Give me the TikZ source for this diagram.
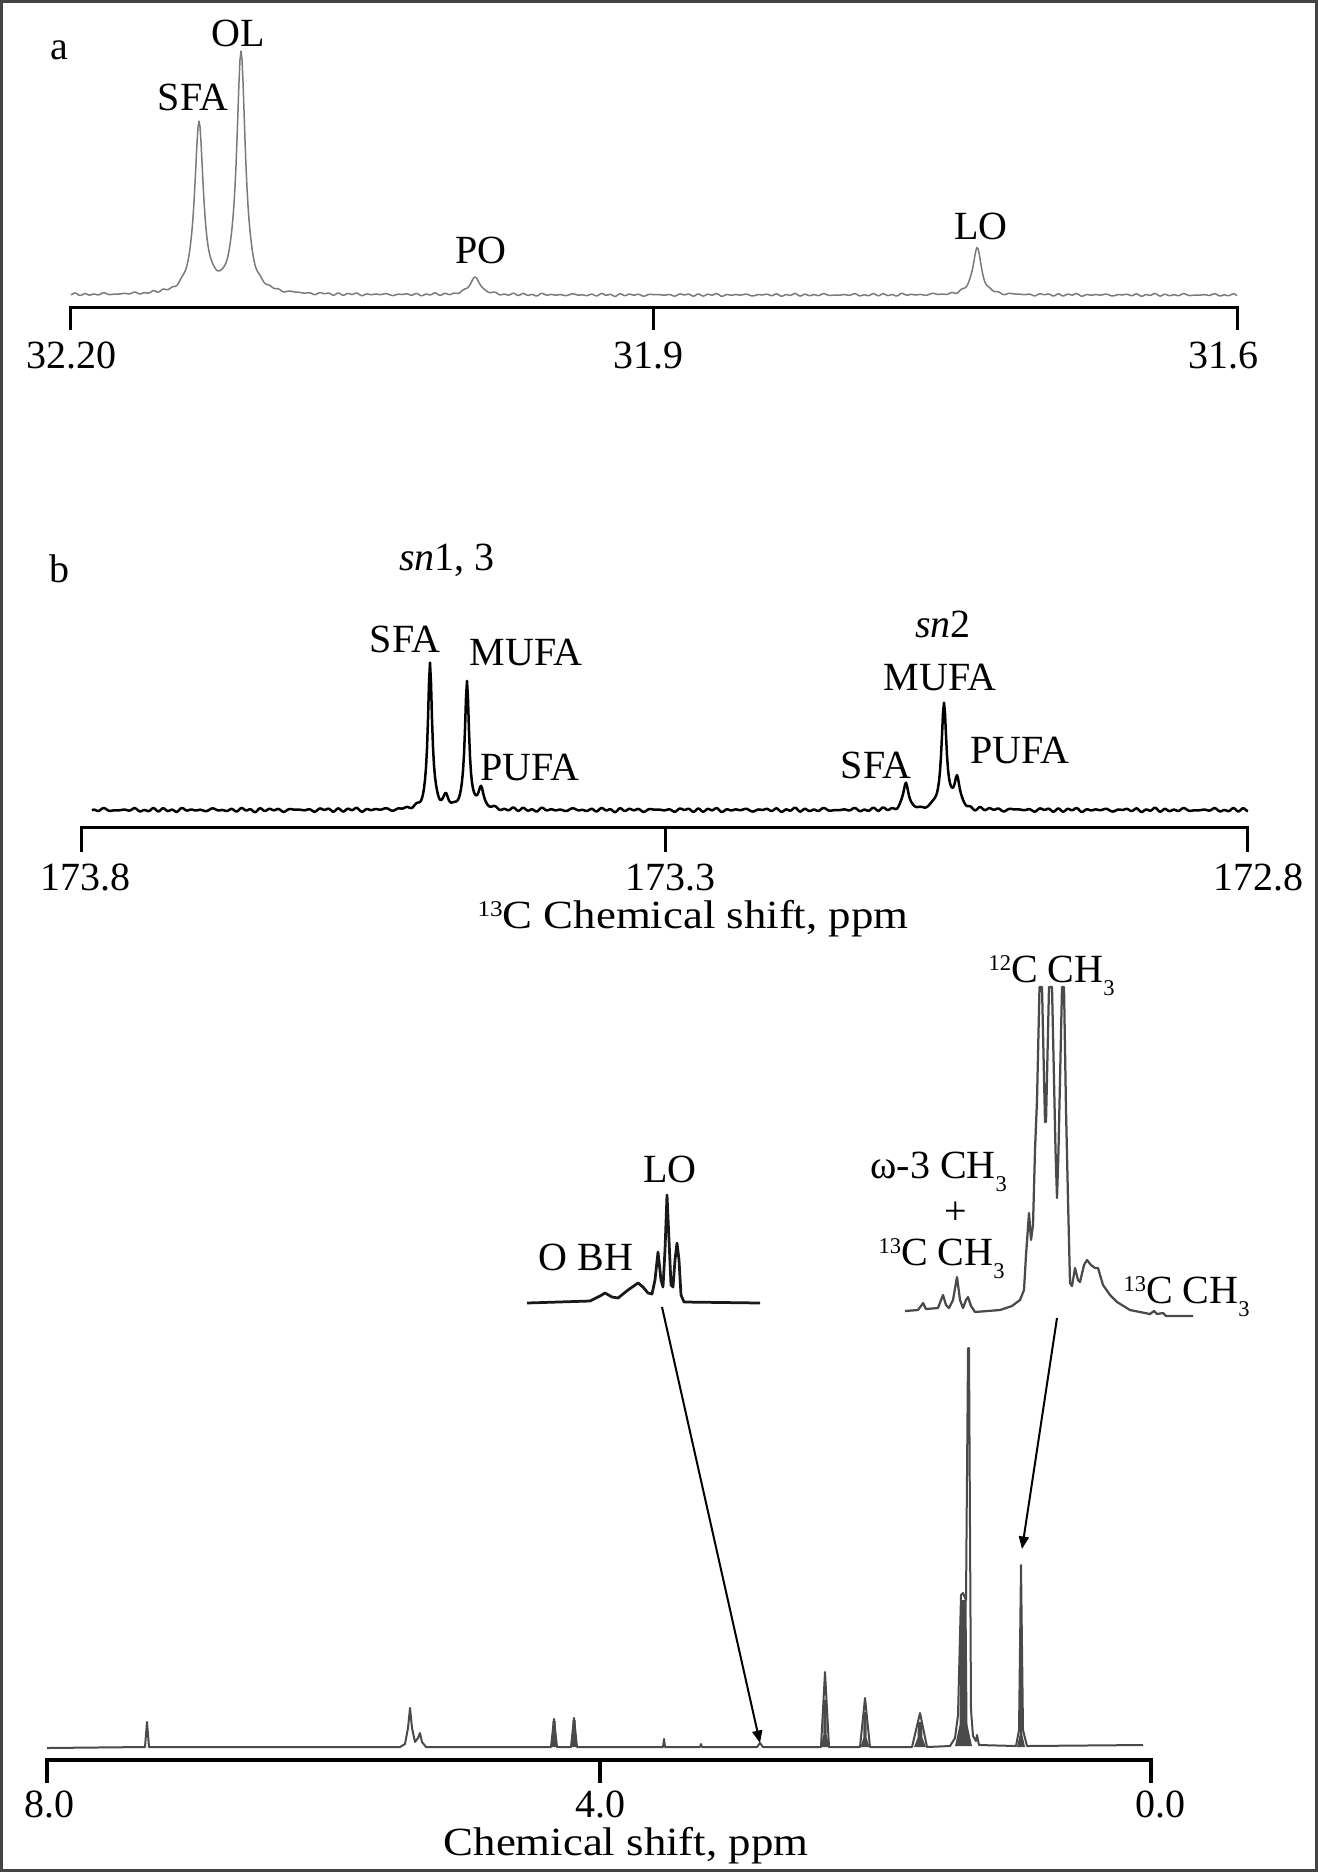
\documentclass[tikz,border=0pt]{standalone}
\usepackage{fontspec}
\setmainfont{Liberation Serif}
\newfontfamily\widefont{Liberation Serif}[FakeStretch=1.12]
\usetikzlibrary{arrows.meta}
\newcommand\mysup[1]{\raisebox{4.5pt}{\fontsize{9}{9}\selectfont #1}}
\newcommand\mysub[1]{\raisebox{-5.3pt}{\fontsize{9}{9}\selectfont #1}}
\definecolor{specgray}{HTML}{7A7A7A}
\definecolor{hgray}{HTML}{4A4A4A}
\definecolor{framegray}{HTML}{444444}
\begin{document}
\begin{tikzpicture}[x=0.4pt,y=-0.4pt,
  declare function={L(\t,\c,\w)=(\w/10)^2/((\w/10)^2+((\t-\c)/10)^2);
    N(\t)=sin(37*mod(\t,360))+0.7*sin(23*mod(\t,360)+40)+0.5*sin(41*mod(\t,360)+70)+0.6*sin(13*mod(\t,360)+10);},
  lab/.style={font=\fontsize{16}{19}\selectfont, inner sep=0pt, anchor=base},
  labw/.style={lab, anchor=base west},
  frame/.style={draw=framegray, line width=1.2pt},
  specA/.style={draw=specgray, line width=0.6pt, line join=round},
  specB/.style={draw=black, line width=1pt, line join=round},
  specC/.style={draw=hgray, line width=0.8pt, line join=round},
  body/.style={fill=hgray},
  insetA/.style={draw=black!90, line width=1.1pt, line join=round},
  insetB/.style={draw=hgray, line width=0.9pt, line join=round},
  axisAB/.style={draw=black, line width=1.2pt, line join=miter},
  axisC/.style={draw=black, line width=1.9pt, line join=miter},
  pointer/.style={draw=black, line width=0.8pt, -{Triangle[length=5pt,width=4pt]}}]
\useasboundingbox (0,0) rectangle (1318,1872);
\draw[frame] (1.5,1.5) rectangle (1316.5,1870.5);

% ---------------- panel a ----------------
\node[lab] (la) at (59,60) {a};
\draw[specA] plot[domain=71:1237, samples=1167]
  (\x, {295 - 170*L(\x,199,5.3) - 240*L(\x,241,5.3) - 18*L(\x,475,6) - 48*L(\x,977,5) + 0.6*N(\x)});
\draw[axisAB] (70,330) -- (70,307.5) -- (1237,307.5) -- (1237,330);
\draw[axisAB] (653,307.5) -- (653,330);
\node[lab] (a1) at (71,368) {32.20};
\node[lab] (a2) at (648,368) {31.9};
\node[lab] (a3) at (1223,368) {31.6};
\node[lab] (aSFA) at (193,110) {SFA};
\node[lab] (aOL) at (238,47) {OL};
\node[lab] (aPO) at (481,263) {PO};
\node[lab] (aLO) at (981,239) {LO};

% ---------------- panel b ----------------
\node[lab] (lb) at (59,582) {b};
\node[lab] (bsn13) at (447,570) {\textit{sn}1, 3};
\draw[specB] plot[domain=92:1248, samples=1157]
  (\x, {810 - 147*L(\x,430,2.5) - 127*L(\x,467,2.5) - 11*L(\x,446,3) - 20*L(\x,481,3)
        - 27*L(\x,906,3) - 106*L(\x,944,3) - 31*L(\x,957,3) + 0.9*N(\x)});
\draw[axisAB] (81,852) -- (81,827) -- (1247,827) -- (1247,852);
\draw[axisAB] (665,827) -- (665,852);
\node[lab] (b1) at (86,890) {173.8};
\node[lab] (b2) at (670,890) {173.3};
\node[lab] (b3) at (1258,890) {172.8};
\node[lab] (btitle) at (693,928) {\widefont\mysup{13}C Chemical shift, ppm};
\node[lab] (bSFA1) at (405,652) {SFA};
\node[lab] (bMUFA1) at (526,665) {MUFA};
\node[lab] (bPUFA1) at (530,780) {PUFA};
\node[lab] (bsn2) at (943,637) {\textit{sn}2};
\node[lab] (bMUFA2) at (940,690) {MUFA};
\node[lab] (bPUFA2) at (1020,763) {PUFA};
\node[lab] (bSFA2) at (876,778) {SFA};

% ---------------- panel c ----------------
\draw[specC] (47,1748) -- (145,1747) -- (147,1722) -- (149,1747) -- (400,1747)
  -- (405,1744) -- (408,1728) -- (410,1708) -- (412,1728) -- (415,1742) -- (418,1738)
  -- (420,1733) -- (422,1742) -- (426,1747) -- (551,1747) -- (554,1719) -- (557,1747)
  -- (571,1747) -- (574,1718) -- (577,1747) -- (663,1747)
  -- (664,1739) -- (665,1747) -- (700,1747) -- (701,1744) -- (702,1747) -- (757,1747)
  -- (760,1743) -- (763,1747) -- (821,1747) -- (825,1672) -- (829,1747) -- (860,1747)
  -- (865,1698) -- (870,1747) -- (912,1747) -- (920,1713) -- (927,1747) -- (950,1746)
  -- (955,1738) -- (958,1715) -- (961,1595) -- (963,1593) -- (966,1600)
  -- (968,1348) -- (969,1348) -- (971,1710) -- (973,1736) -- (976,1741) -- (977,1735)
  -- (979,1745) -- (1016,1746) -- (1019,1730) -- (1021,1565) -- (1023,1730)
  -- (1027,1746) -- (1143,1745);
% multiplet bodies
\fill[body] (550.5,1747) -- (552.6,1738) -- (552.6,1721) -- (555.6,1721) -- (555.6,1738) -- (557.5,1747) -- cycle;
\fill[body] (570.5,1747) -- (572.6,1738) -- (572.6,1720) -- (575.6,1720) -- (575.6,1738) -- (577.5,1747) -- cycle;
\fill[body] (820.5,1747) -- (823.3,1735) -- (823.5,1700) -- (826.5,1700) -- (826.7,1735) -- (829.5,1747) -- cycle;
\fill[body] (860.5,1747) -- (863.3,1738) -- (863.5,1712) -- (866.5,1712) -- (866.7,1738) -- (869.5,1747) -- cycle;
\fill[body] (914,1747) -- (917.5,1738) -- (918,1722) -- (922,1722) -- (922.5,1738) -- (926,1747) -- cycle;
\fill[body] (955,1746) -- (959.5,1725) -- (960.5,1600) -- (966.5,1600) -- (967.5,1725) -- (972,1746) -- cycle;
\fill[body] (1017,1747) -- (1019.6,1735) -- (1019.8,1657) -- (1022.2,1657) -- (1022.4,1735) -- (1025,1747) -- cycle;
\draw[axisC] (47,1783) -- (47,1760) -- (1151,1760) -- (1151,1783);
\draw[axisC] (600,1760) -- (600,1783);
\node[lab] (c1) at (49,1817) {8.0};
\node[lab] (c2) at (600,1817) {4.0};
\node[lab] (c3) at (1160,1817) {0.0};
\node[lab] (ctitle) at (626,1855) {\widefont Chemical shift, ppm};

% inset 1 (LO region)
\draw[insetA] (527,1303) -- (590,1301) -- (600,1296) -- (605,1293) -- (612,1297)
  -- (618,1298) -- (628,1290) -- (638,1283) -- (643,1287) -- (648,1293) -- (652,1294)
  -- (655,1280) -- (658,1252) -- (661,1280) -- (663,1287) -- (665,1250) -- (667,1195)
  -- (669,1240) -- (671,1285) -- (673,1287) -- (675,1260) -- (677,1243) -- (679,1260)
  -- (681,1295) -- (684,1302) -- (760,1303);
\node[labw] (cOBH) at (538,1270) {O BH};
\node[lab] (cLO) at (670,1182) {LO};

% inset 2 (CH3 region)
\draw[insetB] (905,1311) -- (918,1310) -- (921,1306) -- (923,1303) -- (926,1309)
  -- (938,1308) -- (941,1300) -- (943,1295) -- (946,1305) -- (949,1308) -- (953,1300)
  -- (957,1277) -- (960,1300) -- (963,1308) -- (966,1300) -- (968,1297) -- (971,1306)
  -- (975,1312) -- (1000,1310) -- (1012,1306) -- (1020,1300) -- (1024,1290)
  -- (1026,1255) -- (1029,1213) -- (1031,1240) -- (1033,1225) -- (1035,1150)
  -- (1037,1100) -- (1039.5,987) -- (1042,987) -- (1045,1122) -- (1046,1122)
  -- (1049,987) -- (1052,987) -- (1055.5,1150) -- (1057,1198) -- (1058.5,1150)
  -- (1062,987) -- (1064,987) -- (1066,1110) -- (1068,1200) -- (1070,1283)
  -- (1072,1286) -- (1075,1268) -- (1078,1280) -- (1080,1282) -- (1084,1265)
  -- (1087,1260) -- (1091,1265) -- (1095,1268) -- (1098,1268) -- (1103,1285)
  -- (1110,1295) -- (1117,1302) -- (1130,1310) -- (1150,1314) -- (1154,1311)
  -- (1157,1314) -- (1163,1313) -- (1166,1316) -- (1193,1316);
\node[labw] (c12C) at (988,982) {\mysup{12}C CH\mysub{3}};
\node[labw] (cw3) at (870,1178) {ω-3 CH\mysub{3}};
\node[lab, anchor=center] (cplus) at (956,1213) {+};
\node[labw] (c13Ca) at (878,1265) {\mysup{13}C CH\mysub{3}};
\node[labw] (c13Cb) at (1123,1303) {\mysup{13}C CH\mysub{3}};

% pointers
\coordinate (loFrom) at (662,1307);
\coordinate (loTo) at (760,1743);
\coordinate (chFrom) at (1057,1318);
\coordinate (chTo) at (1022,1549);
\draw[pointer] (loFrom) -- (loTo);
\draw[pointer] (chFrom) -- (chTo);
\end{tikzpicture}
\end{document}
